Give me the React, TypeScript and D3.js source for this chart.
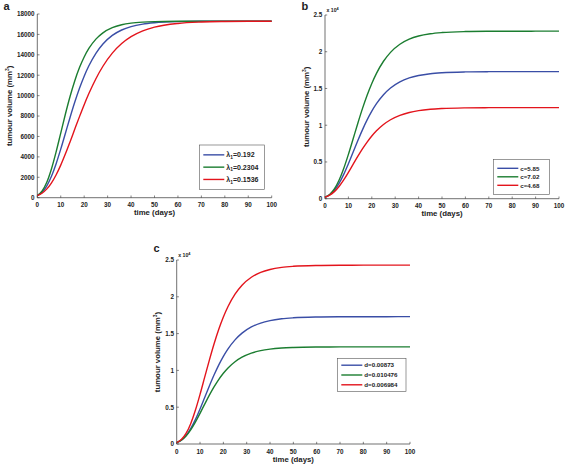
import React from 'react';
import * as d3 from 'd3';

// time grid (days)
const days = [0, 2, 4, 6, 8, 10, 12, 14, 16, 18, 20, 22, 25, 28, 32, 36, 40, 45, 50, 60, 70, 80, 90, 100];

// baseline parameters (λ1=0.192, c=5.85, d=0.00873) – blue in every panel
const volBaseline = [200, 532, 1144, 2078, 3310, 4759, 6320, 7884, 9370, 10721, 11908, 12925, 14151, 15063, 15902, 16433, 16767, 17011, 17144, 17255, 17287, 17296, 17299, 17300];
// panel a
const volLambdaHigh = [200, 631, 1482, 2793, 4467, 6332, 8204, 9942, 11468, 12750, 13793, 14622, 15537, 16150, 16657, 16942, 17103, 17206, 17255, 17290, 17298, 17300, 17300, 17300];
const volLambdaLow = [200, 439, 839, 1431, 2221, 3190, 4299, 5494, 6726, 7944, 9114, 10202, 11660, 12880, 14162, 15103, 15778, 16347, 16707, 17072, 17213, 17267, 17290, 17295];
// panel b
const volCHigh = [200, 578, 1319, 2501, 4106, 6031, 8128, 10239, 12255, 14084, 15691, 17064, 18705, 19916, 21019, 21710, 22139, 22446, 22612, 22747, 22785, 22796, 22799, 22800];
const volCLow = [200, 483, 964, 1663, 2553, 3577, 4665, 5745, 6772, 7704, 8529, 9236, 10096, 10746, 11347, 11738, 11986, 12171, 12274, 12362, 12388, 12397, 12399, 12400];
// panel c
const volDHigh = [200, 518, 1082, 1911, 2966, 4165, 5415, 6632, 7754, 8752, 9608, 10330, 11178, 11789, 12338, 12679, 12886, 13035, 13113, 13176, 13193, 13198, 13200, 13200];
const volDLow = [200, 609, 1433, 2763, 4578, 6743, 9078, 11404, 13593, 15557, 17251, 18679, 20356, 21571, 22650, 23313, 23714, 23995, 24142, 24258, 24289, 24297, 24299, 24300];

const xTicks = [0, 10, 20, 30, 40, 50, 60, 70, 80, 90, 100];
const yTicksA = [0, 2000, 4000, 6000, 8000, 10000, 12000, 14000, 16000, 18000];
const yTicksBC = [0, 5000, 10000, 15000, 20000, 25000];

const legendA = [{ p: 'λ', sub: '1', v: '=0.192' }, { p: 'λ', sub: '1', v: '=0.2304' }, { p: 'λ', sub: '1', v: '=0.1536' }];
const legendB = [{ p: 'c=5.85' }, { p: 'c=7.02' }, { p: 'c=4.68' }];
const legendC = [{ p: 'd=0.00873' }, { p: 'd=0.010476' }, { p: 'd=0.006984' }];

const COLORS = ['#3a4ea6', '#1b7d30', '#e3141c'];
const FONT = '"Liberation Sans", Arial, Helvetica, sans-serif';
const AXIS = '#333';

type LegendItem = { p: string; sub?: string; v?: string };

interface PanelProps {
  letter: string;
  letterX: number;
  letterY: number;
  left: number;
  right: number;
  top: number;
  bottom: number;
  yMax: number;
  yTicks: number[];
  fmt: (v: number) => string;
  exponent: boolean;
  series: number[][];
  legend: LegendItem[];
  lgX: number;
  lgY: number;
  lgW: number;
  lgH: number;
  lgRow: number;
  lgFont: number;
}

function Panel(p: PanelProps) {
  const x = d3.scaleLinear().domain([0, 100]).range([p.left, p.right]);
  const y = d3.scaleLinear().domain([0, p.yMax]).range([p.bottom, p.top]);
  const line = d3
    .line<number>()
    .x((_, i) => x(days[i]))
    .y((d) => y(d))
    .curve(d3.curveMonotoneX);
  const tickLen = 2.2;
  const midY = (p.top + p.bottom) / 2;
  const midX = (p.left + p.right) / 2;
  const firstRowY = p.lgY + (p.lgH - p.lgRow * 2) / 2;
  return (
    <g fontFamily={FONT} fontWeight="bold" fill="#222">
      <text x={p.letterX} y={p.letterY} fontSize={11}>{p.letter}</text>
      {/* axes */}
      <line x1={p.left} x2={p.left} y1={p.top} y2={p.bottom} stroke={AXIS} strokeWidth={0.7} />
      <line x1={p.left} x2={p.right} y1={p.bottom} y2={p.bottom} stroke={AXIS} strokeWidth={0.7} />
      {xTicks.map((t) => (
        <g key={'x' + t}>
          <line x1={x(t)} x2={x(t)} y1={p.bottom} y2={p.bottom - tickLen} stroke={AXIS} strokeWidth={0.6} />
          <text x={x(t)} y={p.bottom + 9.5} fontSize={6.3} textAnchor="middle">{t}</text>
        </g>
      ))}
      {p.yTicks.map((t) => (
        <g key={'y' + t}>
          <line x1={p.left} x2={p.left + tickLen} y1={y(t)} y2={y(t)} stroke={AXIS} strokeWidth={0.6} />
          <text x={p.left - 2.8} y={y(t) + 2.3} fontSize={6.3} textAnchor="end">{p.fmt(t)}</text>
        </g>
      ))}
      {p.exponent && (
        <text x={p.left + 1.5} y={p.top - 3} fontSize={5.2}>
          x 10<tspan dy={-2} fontSize={3.8}>4</tspan>
        </text>
      )}
      <text x={midX} y={p.bottom + 17.5} fontSize={7.8} textAnchor="middle">time (days)</text>
      <text
        transform={`translate(${p.left - (p.exponent ? 16.5 : 25.8)},${midY}) rotate(-90)`}
        fontSize={7.8}
        textAnchor="middle"
      >
        tumour volume (mm<tspan dy={-3} fontSize={5}>3</tspan><tspan dy={3}>)</tspan>
      </text>
      {/* curves */}
      {p.series.map((s, i) => (
        <path key={'s' + i} d={line(s) || ''} fill="none" stroke={COLORS[i]} strokeWidth={1.4} />
      ))}
      {/* legend */}
      <rect x={p.lgX} y={p.lgY} width={p.lgW} height={p.lgH} fill="#fff" stroke="#555" strokeWidth={0.6} />
      {p.legend.map((it, i) => {
        const ly = firstRowY + i * p.lgRow;
        return (
          <g key={'l' + i}>
            <line x1={p.lgX + 4} x2={p.lgX + 25} y1={ly} y2={ly} stroke={COLORS[i]} strokeWidth={1.4} />
            <text x={p.lgX + 27} y={ly + p.lgFont * 0.36} fontSize={p.lgFont}>
              {it.p}
              {it.sub ? <tspan dy={1.6} fontSize={p.lgFont * 0.7}>{it.sub}</tspan> : null}
              {it.v ? <tspan dy={it.sub ? -1.6 : 0}>{it.v}</tspan> : null}
            </text>
          </g>
        );
      })}
    </g>
  );
}

export default function App() {
  const fmtA = (v: number) => String(v);
  const fmtBC = (v: number) => String(v / 10000);
  return (
    <svg
      width={567}
      height={466}
      viewBox="0 0 567 466"
      style={{ position: 'absolute', left: 0, top: 0, background: '#fff' }}
    >
      <rect width={567} height={466} fill="#fff" />
      <Panel
        letter="a" letterX={3.5} letterY={10}
        left={37.3} right={271.7} top={14} bottom={197.7}
        yMax={18000} yTicks={yTicksA} fmt={fmtA} exponent={false}
        series={[volBaseline, volLambdaHigh, volLambdaLow]}
        legend={legendA}
        lgX={199.3} lgY={145} lgW={65} lgH={44.3} lgRow={12.3} lgFont={7}
      />
      <Panel
        letter="b" letterX={301.5} letterY={10}
        left={325} right={559} top={15} bottom={198.7}
        yMax={25000} yTicks={yTicksBC} fmt={fmtBC} exponent={true}
        series={[volBaseline, volCHigh, volCLow]}
        legend={legendB}
        lgX={493.3} lgY={159.3} lgW={56} lgH={35} lgRow={8.5} lgFont={6.2}
      />
      <Panel
        letter="c" letterX={153.5} letterY={252}
        left={176.7} right={410} top={260} bottom={444}
        yMax={25000} yTicks={yTicksBC} fmt={fmtBC} exponent={true}
        series={[volBaseline, volDHigh, volDLow]}
        legend={legendC}
        lgX={337.3} lgY={358.3} lgW={68.7} lgH={33.4} lgRow={9.8} lgFont={6.2}
      />
    </svg>
  );
}
